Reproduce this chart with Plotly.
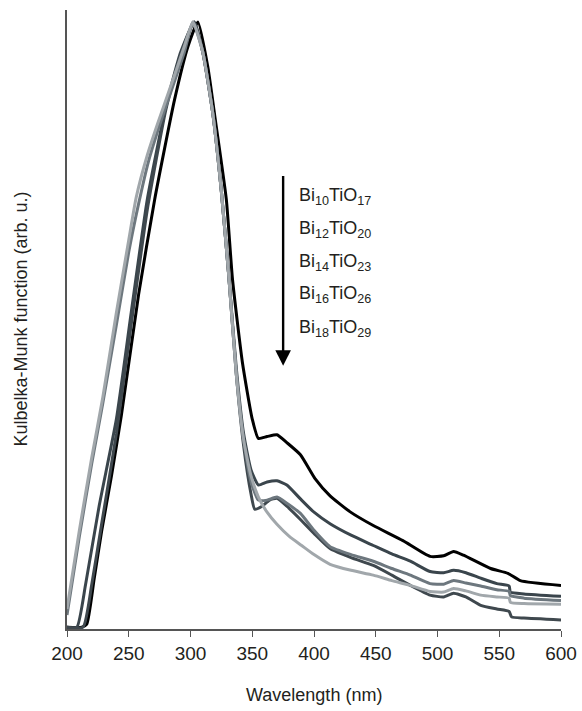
import plotly.graph_objects as go

# Wavelength (nm) / Kubelka-Munk (normalised)
bi10_x = [200, 212, 216, 222, 228, 236, 244, 258, 271, 287, 298, 306, 314, 320, 329, 334, 342, 350, 355, 362, 370, 378, 389, 401, 413, 429, 448, 472, 494, 505, 513, 521, 543, 557, 567, 600]
bi10_y = [0, 0, 0.005, 0.08, 0.158, 0.25, 0.35, 0.55, 0.707, 0.871, 0.96, 1.0, 0.926, 0.84, 0.707, 0.575, 0.438, 0.344, 0.312, 0.315, 0.318, 0.305, 0.285, 0.245, 0.217, 0.191, 0.168, 0.143, 0.117, 0.118, 0.125, 0.119, 0.097, 0.089, 0.077, 0.069]

bi12_x = [200, 208, 215, 226, 240, 252, 265, 280, 292, 303, 310, 318, 325, 331, 337, 343, 349, 355, 362, 370, 378, 389, 400, 413, 430, 448, 463, 478, 494, 505, 513, 523, 535, 548, 558, 559, 570, 600]
bi12_y = [0, 0, 0.07, 0.2, 0.344, 0.52, 0.707, 0.86, 0.95, 1.0, 0.95, 0.85, 0.72, 0.58, 0.43, 0.32, 0.26, 0.235, 0.24, 0.242, 0.235, 0.212, 0.19, 0.171, 0.152, 0.135, 0.121, 0.109, 0.092, 0.09, 0.094, 0.09, 0.081, 0.072, 0.068, 0.058, 0.055, 0.051]

bi14_x = [200, 210, 220, 229, 240, 250, 258, 266, 275, 285, 295, 302, 310, 318, 325, 331, 337, 343, 349, 355, 362, 370, 378, 389, 400, 413, 430, 448, 463, 478, 494, 505, 513, 523, 535, 548, 558, 559, 570, 600]
bi14_y = [0.02, 0.15, 0.27, 0.37, 0.5, 0.62, 0.70, 0.77, 0.83, 0.89, 0.95, 1.0, 0.95, 0.85, 0.72, 0.58, 0.42, 0.31, 0.24, 0.21, 0.21, 0.215, 0.205, 0.188, 0.16, 0.133, 0.12, 0.109, 0.097, 0.086, 0.072, 0.071, 0.077, 0.073, 0.068, 0.062, 0.059, 0.052, 0.048, 0.044]

bi16_x = [200, 210, 220, 229, 240, 250, 256, 265, 273, 285, 295, 302, 310, 318, 325, 331, 337, 343, 349, 355, 362, 370, 380, 390, 400, 413, 430, 448, 463, 478, 494, 505, 513, 523, 535, 548, 558, 559, 570, 600]
bi16_y = [0.03, 0.16, 0.28, 0.38, 0.52, 0.64, 0.71, 0.78, 0.83, 0.9, 0.96, 1.0, 0.95, 0.85, 0.72, 0.58, 0.42, 0.31, 0.25, 0.215, 0.19, 0.17, 0.15, 0.135, 0.12, 0.104, 0.094, 0.086, 0.077, 0.069, 0.059, 0.058, 0.064, 0.06, 0.053, 0.05, 0.048, 0.041, 0.039, 0.038]

bi18_x = [200, 213, 220, 228, 240, 252, 265, 280, 292, 303, 310, 318, 325, 331, 337, 343, 349, 352, 358, 364, 370, 378, 389, 400, 413, 430, 448, 463, 478, 494, 505, 513, 523, 535, 548, 558, 560, 570, 600]
bi18_y = [0, 0, 0.07, 0.17, 0.32, 0.5, 0.69, 0.855, 0.945, 1.0, 0.95, 0.85, 0.72, 0.58, 0.42, 0.30, 0.22, 0.195, 0.2, 0.21, 0.213, 0.2, 0.178, 0.155, 0.13, 0.115, 0.102, 0.086, 0.069, 0.053, 0.05, 0.056, 0.05, 0.036, 0.03, 0.026, 0.017, 0.015, 0.012]

labels = ["Bi<sub>10</sub>TiO<sub>17</sub>", "Bi<sub>12</sub>TiO<sub>20</sub>", "Bi<sub>14</sub>TiO<sub>23</sub>",
          "Bi<sub>16</sub>TiO<sub>26</sub>", "Bi<sub>18</sub>TiO<sub>29</sub>"]
label_y = [0.712, 0.657, 0.603, 0.549, 0.494]
x_ticks = [200, 250, 300, 350, 400, 450, 500, 550, 600]
x_title = "Wavelength (nm)"
y_title = "Kulbelka-Munk function (arb. u.)"

series = [
    (bi10_x, bi10_y, "#000000", "Bi10TiO17"),
    (bi12_x, bi12_y, "#3a454c", "Bi12TiO20"),
    (bi18_x, bi18_y, "#3f484e", "Bi18TiO29"),
    (bi14_x, bi14_y, "#6d777e", "Bi14TiO23"),
    (bi16_x, bi16_y, "#a1a7ab", "Bi16TiO26"),
]

fig = go.Figure()
for xs, ys, col, name in series:
    fig.add_trace(go.Scatter(x=xs, y=ys, mode="lines", name=name,
                             line=dict(color=col, width=3, shape="spline", smoothing=0.5)))

font = dict(family="Liberation Sans, Arial, sans-serif", color="#231f20")

for lab, ly in zip(labels, label_y):
    fig.add_annotation(x=386, y=ly, xref="x", yref="y", text=lab, showarrow=False,
                       xanchor="left", yanchor="middle", font=dict(size=18, **font))

fig.add_annotation(x=375, y=0.432, ax=375, ay=0.748, xref="x", yref="y", axref="x", ayref="y",
                   text="", showarrow=True, arrowhead=2, arrowsize=1.3, arrowwidth=2.4,
                   arrowcolor="#000000")

fig.add_annotation(x=0.5, y=-0.107, xref="paper", yref="paper", text=x_title, showarrow=False,
                   xanchor="center", yanchor="middle", font=dict(size=18, **font))
fig.add_annotation(x=-0.095, y=0.5, xref="paper", yref="paper", text=y_title, showarrow=False,
                   textangle=-90, xanchor="center", yanchor="middle", font=dict(size=18, **font))

fig.update_layout(
    width=582, height=711,
    margin=dict(l=67, r=21, t=10, b=82),
    plot_bgcolor="white", paper_bgcolor="white",
    showlegend=False,
    font=dict(size=18, **font),
    xaxis=dict(range=[200, 600], tickvals=x_ticks, ticks="outside", ticklen=6, tickcolor="#555555",
               showline=True, linecolor="#555555", linewidth=1.5, showgrid=False, zeroline=False,
               automargin=False, tickfont=dict(size=19, **font)),
    yaxis=dict(range=[-0.003, 1.02], showticklabels=False, ticks="", showline=True,
               linecolor="#555555", linewidth=1.5, showgrid=False, zeroline=False, automargin=False),
)

# remove the default page margin so the figure fills the window exactly
fig.write_html("out.html", config={"displayModeBar": False},
               post_script="document.body.style.margin='0px';document.body.style.overflow='hidden';")
